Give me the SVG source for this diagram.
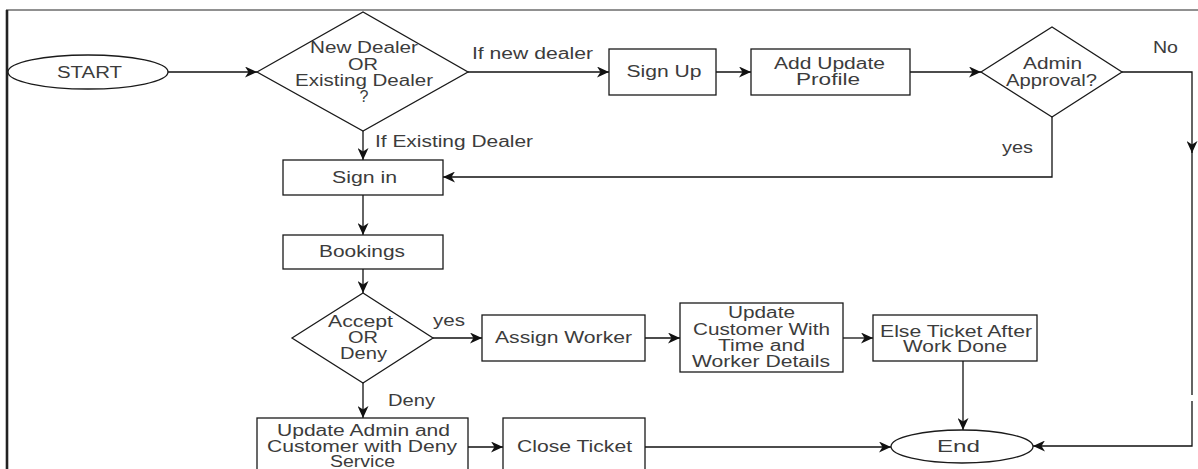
<svg xmlns="http://www.w3.org/2000/svg" width="1198" height="469" viewBox="0 0 1198 469">
<style>
.shape{fill:#fff;stroke:#1a1a1a;stroke-width:1.3}
.conn{fill:none;stroke:#111;stroke-width:1.3}
text{font-family:"Liberation Sans",Arial,sans-serif;font-size:16px;fill:#3c3c3c}
.c{text-anchor:middle}
</style>
<defs>
<marker id="arr" markerUnits="userSpaceOnUse" markerWidth="13" markerHeight="11" refX="12" refY="5.5" orient="auto">
<path d="M0,0 L12,5.5 L0,11 L3.5,5.5 Z" fill="#111"/>
</marker>
</defs>
<rect x="0" y="0" width="1198" height="469" fill="#fff"/>
<g id="frame">
<line x1="6" y1="10" x2="1198" y2="10" stroke="#222" stroke-width="1"/>
<line x1="7" y1="10" x2="7" y2="469" stroke="#222" stroke-width="2.6"/>
</g>
<g id="connectors">
<path class="conn" d="M168,72 H257" marker-end="url(#arr)"/>
<path class="conn" d="M468,72 H609" marker-end="url(#arr)"/>
<path class="conn" d="M716,72 H751" marker-end="url(#arr)"/>
<path class="conn" d="M910,72 H981" marker-end="url(#arr)"/>
<path class="conn" d="M1122,72 H1192 V153" marker-end="url(#arr)"/>
<path class="conn" d="M1192,150 V395 M1192,401 V446 H1033" marker-end="url(#arr)"/>
<path class="conn" d="M1052,117 V177 H443" marker-end="url(#arr)"/>
<path class="conn" d="M363,131 V160" marker-end="url(#arr)"/>
<path class="conn" d="M363,195 V235" marker-end="url(#arr)"/>
<path class="conn" d="M363,269 V293" marker-end="url(#arr)"/>
<path class="conn" d="M433,338 H482" marker-end="url(#arr)"/>
<path class="conn" d="M645,338 H680" marker-end="url(#arr)"/>
<path class="conn" d="M843,338 H873" marker-end="url(#arr)"/>
<path class="conn" d="M963,361 V430" marker-end="url(#arr)"/>
<path class="conn" d="M363,383 V418" marker-end="url(#arr)"/>
<path class="conn" d="M468,447 H503" marker-end="url(#arr)"/>
<path class="conn" d="M645,447 H891" marker-end="url(#arr)"/>
<text x="472" y="59" textLength="121" lengthAdjust="spacingAndGlyphs">If new dealer</text>
<text x="375" y="147" textLength="158" lengthAdjust="spacingAndGlyphs">If Existing Dealer</text>
<text x="1153" y="53" textLength="25" lengthAdjust="spacingAndGlyphs">No</text>
<text x="1002" y="153" textLength="31" lengthAdjust="spacingAndGlyphs">yes</text>
<text x="433" y="326" textLength="32" lengthAdjust="spacingAndGlyphs">yes</text>
<text x="388" y="406" textLength="47" lengthAdjust="spacingAndGlyphs">Deny</text>
</g>
<g id="start">
<ellipse class="shape" cx="88" cy="72" rx="80" ry="17"/>
<text class="c" x="89.5" y="78" textLength="65" lengthAdjust="spacingAndGlyphs">START</text>
</g>
<g id="dealer-decision">
<polygon class="shape" points="257,72 363,12 468,72 363,131"/>
<text class="c" x="364" y="53" textLength="108" lengthAdjust="spacingAndGlyphs">New Dealer</text>
<text class="c" x="363" y="70" textLength="30" lengthAdjust="spacingAndGlyphs">OR</text>
<text class="c" x="364" y="86" textLength="138" lengthAdjust="spacingAndGlyphs">Existing Dealer</text>
<text class="c" x="364" y="102">?</text>
</g>
<g id="sign-up">
<rect class="shape" x="609" y="49" width="107" height="46"/>
<text class="c" x="664" y="77" textLength="75" lengthAdjust="spacingAndGlyphs">Sign Up</text>
</g>
<g id="add-update-profile">
<rect class="shape" x="751" y="49" width="159" height="46"/>
<text class="c" x="829.5" y="69" textLength="111" lengthAdjust="spacingAndGlyphs">Add Update</text>
<text class="c" x="828" y="85" textLength="64" lengthAdjust="spacingAndGlyphs">Profile</text>
</g>
<g id="admin-approval">
<polygon class="shape" points="981,72 1052,27 1122,72 1052,117"/>
<text class="c" x="1052.5" y="69" textLength="59" lengthAdjust="spacingAndGlyphs">Admin</text>
<text class="c" x="1051.5" y="86" textLength="91" lengthAdjust="spacingAndGlyphs">Approval?</text>
</g>
<g id="sign-in">
<rect class="shape" x="283" y="160" width="160" height="35"/>
<text class="c" x="364.5" y="183" textLength="65" lengthAdjust="spacingAndGlyphs">Sign in</text>
</g>
<g id="bookings">
<rect class="shape" x="283" y="235" width="160" height="34"/>
<text class="c" x="362" y="257" textLength="86" lengthAdjust="spacingAndGlyphs">Bookings</text>
</g>
<g id="accept-deny">
<polygon class="shape" points="292,338 363,293 433,338 363,383"/>
<text class="c" x="360.5" y="327" textLength="65" lengthAdjust="spacingAndGlyphs">Accept</text>
<text class="c" x="363" y="343" textLength="30" lengthAdjust="spacingAndGlyphs">OR</text>
<text class="c" x="363.5" y="359" textLength="47" lengthAdjust="spacingAndGlyphs">Deny</text>
</g>
<g id="assign-worker">
<rect class="shape" x="482" y="315" width="163" height="46"/>
<text class="c" x="563.5" y="343" textLength="137" lengthAdjust="spacingAndGlyphs">Assign Worker</text>
</g>
<g id="update-customer">
<rect class="shape" x="680" y="303" width="163" height="69"/>
<text class="c" x="761.5" y="318" textLength="67" lengthAdjust="spacingAndGlyphs">Update</text>
<text class="c" x="761.5" y="335" textLength="137" lengthAdjust="spacingAndGlyphs">Customer With</text>
<text class="c" x="761.5" y="351" textLength="87" lengthAdjust="spacingAndGlyphs">Time and</text>
<text class="c" x="761" y="367" textLength="138" lengthAdjust="spacingAndGlyphs">Worker Details</text>
</g>
<g id="else-ticket">
<rect class="shape" x="873" y="315" width="164" height="46"/>
<text class="c" x="956" y="337" textLength="152" lengthAdjust="spacingAndGlyphs">Else Ticket After</text>
<text class="c" x="955" y="352" textLength="104" lengthAdjust="spacingAndGlyphs">Work Done</text>
</g>
<g id="update-admin">
<rect class="shape" x="257" y="418" width="211" height="64"/>
<text class="c" x="363.5" y="436" textLength="173" lengthAdjust="spacingAndGlyphs">Update Admin and</text>
<text class="c" x="362" y="452" textLength="190" lengthAdjust="spacingAndGlyphs">Customer with Deny</text>
<text class="c" x="362.5" y="467" textLength="65" lengthAdjust="spacingAndGlyphs">Service</text>
</g>
<g id="close-ticket">
<rect class="shape" x="503" y="418" width="142" height="64"/>
<text class="c" x="574.5" y="452" textLength="115" lengthAdjust="spacingAndGlyphs">Close Ticket</text>
</g>
<g id="end">
<ellipse class="shape" cx="962" cy="446.5" rx="71" ry="16.5"/>
<text class="c" x="958.5" y="452" textLength="43" lengthAdjust="spacingAndGlyphs">End</text>
</g>
</svg>
